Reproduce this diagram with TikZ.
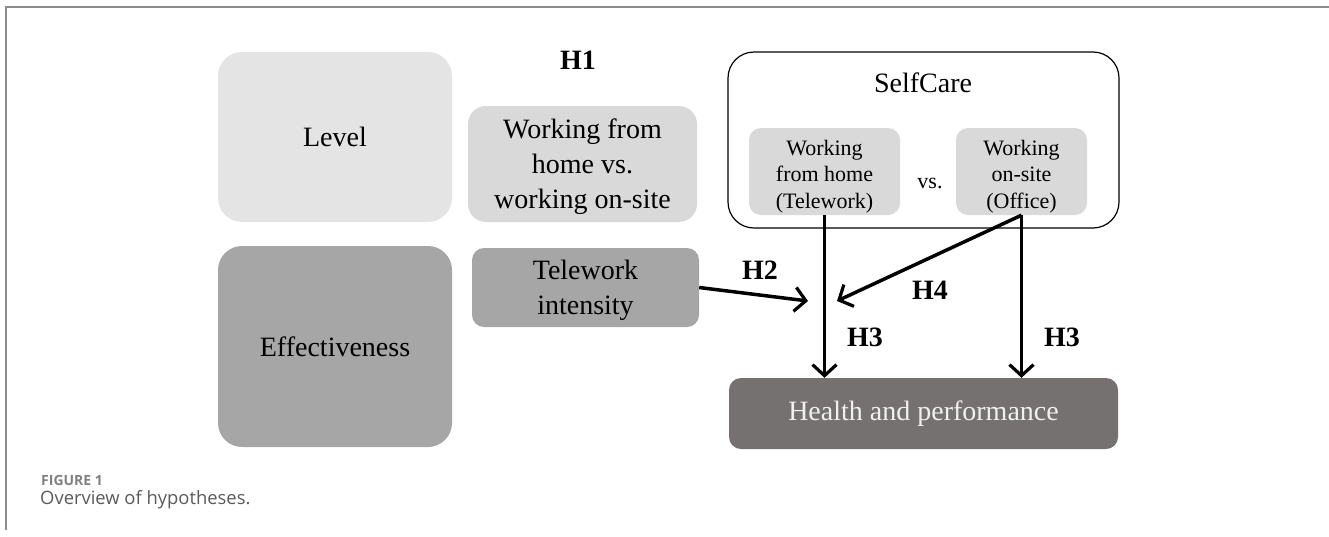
\documentclass[tikz,border=0pt]{standalone}
\usepackage{fontspec}
\setmainfont{Liberation Serif}
\newfontfamily\capfont{Open Sans}
\usetikzlibrary{arrows.meta}
\definecolor{lvl}{HTML}{E4E4E4}
\definecolor{mid}{HTML}{D9D9D9}
\definecolor{dark}{HTML}{A6A6A6}
\definecolor{hp}{HTML}{767171}
\definecolor{frame}{HTML}{8C8C8C}
\definecolor{capgray}{HTML}{808080}
\definecolor{capgray2}{HTML}{5A5A5A}
\tikzset{
  box/.style={rectangle, rounded corners=#1, inner sep=0pt, align=center, font=\fontsize{28}{34}\selectfont},
  box/.default=22pt,
  big/.style={font=\fontsize{28}{35}\selectfont, align=center},
  small/.style={font=\fontsize{22}{26.5}\selectfont, align=center},
  hyp/.style={font=\fontsize{28}{34}\selectfont\bfseries},
  arr/.style={line width=3.5pt, -{Straight Barb[length=11pt,width=24pt,line width=3.2pt]}},
}
\begin{document}
\begin{tikzpicture}[x=1pt,y=-1pt]
\useasboundingbox (0,0) rectangle (1329,536);
% frame
\draw[frame, line width=2pt] (6,530) -- (6,7) -- (1329,7);
% left column
\node[box=24pt, fill=lvl, minimum width=234pt, minimum height=170pt] (level) at (335,137) {Level};
\node[box=24pt, fill=dark, minimum width=234pt, minimum height=201pt] (eff) at (335,346.5) {Effectiveness};
% middle column
\node[hyp] (h1) at (578,60) {H1};
\node[box=18pt, fill=mid, minimum width=229pt, minimum height=116pt,
      label={[big, yshift=-3pt]center:{Working from\\home vs.\\working on-site}}] (wfh) at (582.5,164) {};
\node[box=12pt, fill=dark, minimum width=227pt, minimum height=79pt,
      label={[big, yshift=-3pt]center:{Telework\\intensity}}] (ti) at (585.5,287.5) {};
% selfcare
\node[box=26pt, draw=black, line width=1.2pt, fill=white, minimum width=391pt, minimum height=176pt] (sc) at (923.5,140) {};
\node[font=\fontsize{28}{34}\selectfont] (sct) at (923,83) {SelfCare};
\node[box=12pt, fill=mid, minimum width=151pt, minimum height=87pt,
      label={[small, yshift=-5pt]center:{Working\\from home\\(Telework)}}] (tw) at (824.5,171.5) {};
\node[box=12pt, fill=mid, minimum width=131pt, minimum height=87pt,
      label={[small, yshift=-5pt]center:{Working\\on-site\\(Office)}}] (of) at (1021.5,171.5) {};
\node[small] (vs) at (930,183) {vs.};
% outcome
\node[box=12pt, fill=hp, text=white!94!black, minimum width=389pt, minimum height=71pt] (hp) at (923.5,413.5) {Health and performance};
% arrows
\coordinate (m2) at (808,301);
\coordinate (m4) at (837,301);
\draw[arr] (tw.south) -- (tw.south |- hp.north);
\draw[arr] (of.south) -- (of.south |- hp.north);
\draw[arr] (of.south) -- (m4);
\draw[arr] (ti.east) -- (m2);
% labels
\node[hyp] (h2) at (760,270) {H2};
\node[hyp] (h4) at (930,290) {H4};
\node[hyp] (h3a) at (865,337) {H3};
\node[hyp] (h3b) at (1062,337) {H3};
% caption
\node[anchor=base west, inner sep=0pt, text=capgray, font=\capfont\fontsize{14}{17}\selectfont\bfseries] (fig) at (41,485) {FIGURE 1};
\node[anchor=base west, inner sep=0pt, text=capgray2, font=\capfont\fontsize{18.4}{22}\selectfont] (cap) at (40,504) {Overview of hypotheses.};
\end{tikzpicture}
\end{document}
